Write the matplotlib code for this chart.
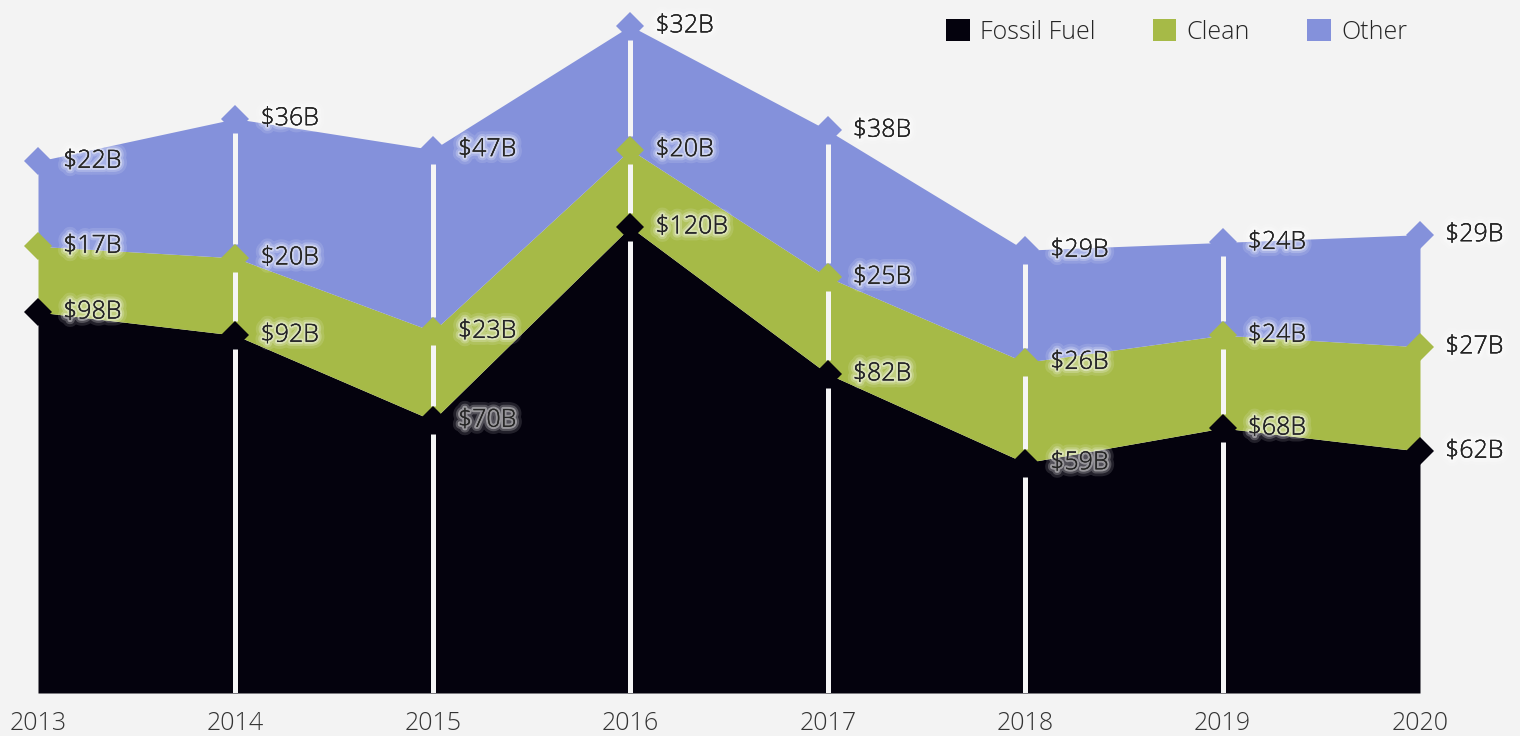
import matplotlib
matplotlib.use("Agg")
import matplotlib.pyplot as plt
import matplotlib.patheffects as pe
from matplotlib.patches import Patch
import numpy as np

# ---- data ----
years = [2013, 2014, 2015, 2016, 2017, 2018, 2019, 2020]
fossil = [98, 92, 70, 120, 82, 59, 68, 62]
clean = [17, 20, 23, 20, 25, 26, 24, 27]
other = [22, 36, 47, 32, 38, 29, 24, 29]
series_names = ["Fossil Fuel", "Clean", "Other"]

# ---- style ----
BG = "#f3f3f3"
COLORS = ["#04020d", "#a6ba47", "#8491db"]
TEXT = "#252525"
plt.rcParams['font.family'] = ['Open Sans', 'DejaVu Sans']
plt.rcParams['font.weight'] = 'light'

W, H, DPI = 1520, 736, 100
fig = plt.figure(figsize=(W / DPI, H / DPI), dpi=DPI, facecolor=BG)

# pixel layout
x0_px, x1_px = 38, 1420          # positions of first / last year
bottom_px = 693                   # bottom of the area
zero_px, px_per_unit = 691, 3.867

ax = fig.add_axes([0, 1 - bottom_px / H, 1, bottom_px / H])
ax.set_facecolor(BG)
px_per_year = (x1_px - x0_px) / (years[-1] - years[0])
ax.set_xlim(years[0] - x0_px / px_per_year, years[0] + (W - x0_px) / px_per_year)
ymin = -(bottom_px - zero_px) / px_per_unit
ymax = zero_px / px_per_unit
ax.set_ylim(ymin, ymax)

x = np.array(years, dtype=float)
f = np.array(fossil, dtype=float)
c = f + np.array(clean, dtype=float)
o = c + np.array(other, dtype=float)
levels = [f, c, o]
vals = [fossil, clean, other]
bases = [np.full_like(f, ymin), f, c]

for lev, base, col in zip(levels, bases, COLORS):
    ax.fill_between(x, base, lev, color=col, linewidth=0, zorder=1)

# white separators at interior years, broken around the markers
pad = 14 / px_per_unit
for i in range(1, len(years) - 1):
    bounds = [ymin, f[i], c[i], o[i]]
    for j in range(3):
        lo = bounds[j] + (pad if j > 0 else 0)
        hi = bounds[j + 1] - pad
        if hi > lo:
            ax.vlines(x[i], lo, hi, color="#f5f5f5", linewidth=3.6, zorder=2)

# markers
for lev, col in zip(levels, COLORS):
    ax.plot(x, lev, linestyle="none", marker="D", markersize=14,
            markerfacecolor=col, markeredgewidth=0, zorder=3, clip_on=False)

# labels with glow
glow = [pe.withStroke(linewidth=10, foreground=(1, 1, 1, 0.12)),
        pe.withStroke(linewidth=6, foreground=(1, 1, 1, 0.22)),
        pe.withStroke(linewidth=3, foreground=(1, 1, 1, 0.4)),
        pe.Normal()]
off = 25 / px_per_year
for lev, vs in zip(levels, vals):
    for xi, yi, v in zip(x, lev, vs):
        ax.text(xi + off, yi, f"${v}B", fontsize=18, color=TEXT,
                va="center", ha="left", zorder=5, path_effects=glow)

# axes cosmetics
for s in ax.spines.values():
    s.set_visible(False)
ax.set_yticks([])
ax.set_xticks(years)
ax.set_xticklabels([str(y) for y in years], fontsize=18, color="#333333")
ax.tick_params(axis="x", length=0, pad=13)

handles = [Patch(facecolor=col, edgecolor="none", label=n)
           for col, n in zip(COLORS, series_names)]
leg = ax.legend(handles=handles, loc="upper right", bbox_to_anchor=(0.934, 0.99),
                ncol=3, frameon=False, fontsize=18, handlelength=0.95,
                handleheight=0.95, handletextpad=0.4, columnspacing=2.3,
                borderaxespad=0.3, borderpad=0.2)
for t in leg.get_texts():
    t.set_color(TEXT)

fig.savefig("out.png", dpi=DPI, facecolor=BG)
